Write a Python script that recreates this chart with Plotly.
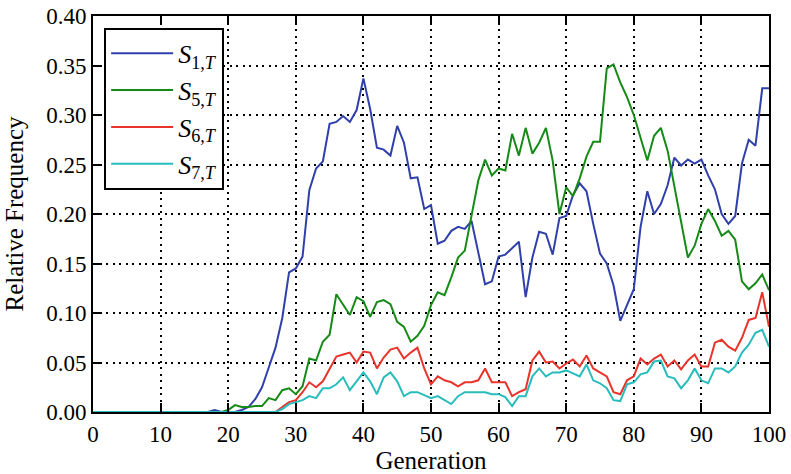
import plotly.graph_objects as go

generation = list(range(0, 101))

s1_T = [0.0, 0.0, 0.0, 0.0, 0.0, 0.0, 0.0, 0.0, 0.0, 0.0,
        0.0, 0.0, 0.0, 0.0, 0.0, 0.0, 0.0, 0.0, 0.002, 0.0,
        0.0, 0.0, 0.002, 0.005, 0.013, 0.025, 0.045, 0.065, 0.095, 0.141,
        0.145, 0.157, 0.224, 0.246, 0.253, 0.291, 0.293, 0.299, 0.293, 0.305,
        0.337, 0.306, 0.267, 0.265, 0.259, 0.289, 0.272, 0.236, 0.237, 0.205,
        0.209, 0.170, 0.173, 0.183, 0.187, 0.185, 0.193, 0.160, 0.129, 0.132,
        0.157, 0.159, 0.165, 0.172, 0.116, 0.156, 0.182, 0.180, 0.159, 0.196,
        0.198, 0.219, 0.231, 0.223, 0.190, 0.160, 0.150, 0.128, 0.092, 0.108,
        0.124, 0.187, 0.223, 0.200, 0.210, 0.229, 0.257, 0.249, 0.255, 0.251,
        0.255, 0.239, 0.225, 0.200, 0.190, 0.198, 0.251, 0.275, 0.269, 0.327,
        0.327]

s5_T = [0.0, 0.0, 0.0, 0.0, 0.0, 0.0, 0.0, 0.0, 0.0, 0.0,
        0.0, 0.0, 0.0, 0.0, 0.0, 0.0, 0.0, 0.0, 0.0, 0.0,
        0.002, 0.007, 0.005, 0.005, 0.006, 0.006, 0.014, 0.012, 0.022, 0.024,
        0.018, 0.026, 0.054, 0.052, 0.071, 0.078, 0.119, 0.109, 0.098, 0.116,
        0.112, 0.096, 0.111, 0.113, 0.109, 0.091, 0.086, 0.071, 0.077, 0.087,
        0.108, 0.121, 0.118, 0.136, 0.156, 0.163, 0.198, 0.234, 0.255, 0.239,
        0.246, 0.244, 0.281, 0.259, 0.287, 0.261, 0.272, 0.287, 0.254, 0.200,
        0.227, 0.218, 0.236, 0.258, 0.273, 0.273, 0.347, 0.351, 0.333, 0.318,
        0.300, 0.278, 0.254, 0.279, 0.287, 0.264, 0.227, 0.190, 0.156, 0.168,
        0.190, 0.205, 0.193, 0.178, 0.183, 0.174, 0.132, 0.124, 0.130, 0.139,
        0.123]

s6_T = [0.0, 0.0, 0.0, 0.0, 0.0, 0.0, 0.0, 0.0, 0.0, 0.0,
        0.0, 0.0, 0.0, 0.0, 0.0, 0.0, 0.0, 0.0, 0.0, 0.0,
        0.0, 0.0, 0.0, 0.0, 0.0, 0.0, 0.0, 0.0, 0.005, 0.010,
        0.012, 0.020, 0.030, 0.025, 0.031, 0.044, 0.056, 0.058, 0.060, 0.050,
        0.061, 0.060, 0.044, 0.055, 0.063, 0.065, 0.054, 0.060, 0.065, 0.044,
        0.028, 0.036, 0.032, 0.030, 0.026, 0.030, 0.030, 0.032, 0.044, 0.030,
        0.030, 0.030, 0.016, 0.020, 0.023, 0.052, 0.061, 0.050, 0.051, 0.044,
        0.049, 0.053, 0.046, 0.057, 0.044, 0.040, 0.036, 0.020, 0.018, 0.032,
        0.036, 0.054, 0.048, 0.054, 0.058, 0.046, 0.052, 0.043, 0.052, 0.058,
        0.046, 0.046, 0.070, 0.073, 0.066, 0.062, 0.075, 0.093, 0.095, 0.121,
        0.086]

s7_T = [0.0, 0.0, 0.0, 0.0, 0.0, 0.0, 0.0, 0.0, 0.0, 0.0,
        0.0, 0.0, 0.0, 0.0, 0.0, 0.0, 0.0, 0.0, 0.0, 0.0,
        0.0, 0.0, 0.0, 0.0, 0.0, 0.0, 0.0, 0.0, 0.003, 0.008,
        0.010, 0.012, 0.016, 0.014, 0.024, 0.024, 0.028, 0.035, 0.022, 0.031,
        0.040, 0.031, 0.018, 0.035, 0.040, 0.031, 0.016, 0.020, 0.020, 0.017,
        0.014, 0.016, 0.012, 0.008, 0.016, 0.020, 0.020, 0.020, 0.020, 0.018,
        0.018, 0.015, 0.006, 0.016, 0.016, 0.036, 0.044, 0.036, 0.040, 0.040,
        0.042, 0.039, 0.036, 0.048, 0.032, 0.029, 0.024, 0.012, 0.011, 0.028,
        0.030, 0.038, 0.040, 0.051, 0.052, 0.036, 0.034, 0.024, 0.032, 0.044,
        0.032, 0.029, 0.044, 0.044, 0.040, 0.046, 0.060, 0.068, 0.080, 0.083,
        0.066]

series_names = ["<i>S</i><sub>1,<i>T</i></sub>", "<i>S</i><sub>5,<i>T</i></sub>",
                "<i>S</i><sub>6,<i>T</i></sub>", "<i>S</i><sub>7,<i>T</i></sub>"]
series_values = [s1_T, s5_T, s6_T, s7_T]
series_colors = ["#3040aa", "#168a16", "#e8342a", "#28bcbc"]

x_ticks = list(range(0, 101, 10))
y_ticks = [0.0, 0.05, 0.10, 0.15, 0.20, 0.25, 0.30, 0.35, 0.40]

FONT = "'Liberation Serif', 'Times New Roman', Times, serif"

fig = go.Figure()
for i, (name, vals, col) in enumerate(zip(series_names, series_values, series_colors)):
    fig.add_trace(go.Scatter(
        x=generation, y=vals, mode="lines", name=name,
        legendgroup=f"g{i}",
        line=dict(color=col, width=2),
    ))

axis_common = dict(
    showline=True, linecolor="black", linewidth=2, mirror="ticks",
    ticks="inside", ticklen=9, tickwidth=1.5, tickcolor="black",
    showgrid=True, gridcolor="black", gridwidth=1.5, griddash="2px,4.5px",
    zeroline=False, automargin=False,
    tickfont=dict(family=FONT, size=23, color="black"),
)

fig.update_layout(
    width=791, height=474,
    margin=dict(l=93, r=22, t=16, b=62),
    paper_bgcolor="white", plot_bgcolor="white",
    font=dict(family=FONT, color="black"),
    showlegend=True,
    legend=dict(
        x=0.0165, y=0.97, xanchor="left", yanchor="top",
        bgcolor="white", bordercolor="black", borderwidth=2,
        font=dict(family=FONT, size=26, color="black"),
        tracegroupgap=0, itemwidth=62,
    ),
    xaxis=dict(
        range=[0, 100], tickmode="array", tickvals=x_ticks,
        ticktext=[str(v) for v in x_ticks],
        title=dict(text="Generation", font=dict(family=FONT, size=25)),
        **axis_common,
    ),
    yaxis=dict(
        range=[0, 0.40], tickmode="array", tickvals=y_ticks,
        ticktext=[f"{v:.2f}" for v in y_ticks],
        title=dict(text="Relative Frequency", font=dict(family=FONT, size=25)),
        **axis_common,
    ),
)

fig.write_html("out.html")
